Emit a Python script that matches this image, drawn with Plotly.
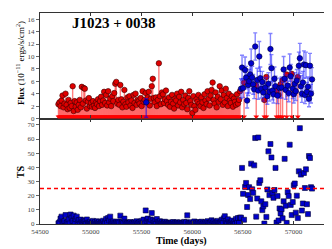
import plotly.graph_objects as go

# ---------------- data ----------------
early_time = [
    54682, 54692, 54702, 54712, 54722, 54732, 54742, 54752, 54762, 54772,
    54782, 54792, 54802, 54812, 54822, 54832, 54842, 54852, 54862, 54872,
    54882, 54892, 54902, 54912, 54922, 54932, 54942, 54952, 54962, 54972,
    54982, 54992, 55002, 55012, 55022, 55032, 55042, 55052, 55062, 55072,
    55082, 55092, 55102, 55112, 55122, 55132, 55142, 55152, 55162, 55172,
    55182, 55192, 55202, 55212, 55222, 55232, 55242, 55252, 55262, 55272,
    55282, 55292, 55302, 55312, 55322, 55332, 55342, 55352, 55362, 55372,
    55382, 55392, 55402, 55412, 55422, 55432, 55442, 55452, 55462, 55472,
    55482, 55492, 55502, 55512, 55522, 55532, 55542, 55552, 55562, 55572,
    55582, 55592, 55602, 55612, 55622, 55632, 55642, 55652, 55662, 55672,
    55682, 55692, 55702, 55712, 55722, 55732, 55742, 55752, 55762, 55772,
    55782, 55792, 55802, 55812, 55822, 55832, 55842, 55852, 55862, 55872,
    55882, 55892, 55902, 55912, 55922, 55932, 55942, 55952, 55962, 55972,
    55982, 55992, 56002, 56012, 56022, 56032, 56042, 56052, 56062, 56072,
    56082, 56092, 56102, 56112, 56122, 56132, 56142, 56152, 56162, 56172,
    56182, 56192, 56202, 56212, 56222, 56232, 56242, 56252, 56262, 56272,
    56282, 56292, 56302, 56312, 56322, 56332, 56342, 56352, 56362, 56372,
    56382, 56392, 56402, 56412, 56422, 56432, 56442, 56452, 56462, 56472,
]
early_flux_ul = [
    2.3, 2.6, 2.0, 2.9, 3.7, 1.8, 2.4, 4.0, 2.2, 1.5,
    3.0, 1.7, 2.5, 2.0, 5.2, 1.2, 2.8, 1.9, 2.6, 1.4,
    2.2, 3.0, 1.8, 5.1, 2.4, 4.9, 4.8, 2.9, 1.6, 2.7,
    3.3, 2.0, 2.5, 1.9, 2.8, 2.1, 1.7, 2.6, 2.3, 3.1,
    2.0, 2.8, 3.5, 2.2, 2.9, 4.3, 2.5, 3.8, 2.1, 4.4,
    2.6, 3.2, 2.0, 3.6, 2.8, 4.1, 5.6, 5.9, 2.4, 3.0,
    2.2, 5.4, 3.1, 1.8, 2.7, 4.6, 2.3, 1.9, 3.4, 2.6,
    3.6, 2.1, 2.9, 1.7, 3.8, 2.5, 4.0, 2.2, 3.0, 2.8,
    2.4, 3.3, 2.0, 4.4, 2.7, 3.0, 4.1, 2.6, 3.4, 4.3,
    2.1, 3.2, 5.2, 6.4, 3.3, 2.6, 3.4, 2.0, 3.0, 8.9,
    3.6, 2.3, 4.2, 3.9, 2.5, 3.1, 4.5, 2.8, 2.2, 3.4,
    1.9, 2.7, 3.8, 2.4, 1.6, 3.2, 2.9, 4.0, 2.1, 3.5,
    2.6, 4.3, 1.8, 3.0, 2.3, 3.7, 2.5, 1.5, 3.3, 4.4,
    2.8, 2.2, 0.9, 3.6, 2.0, 1.4, 3.1, 2.7, 3.8, 2.4,
    2.0, 3.4, 2.6, 1.7, 3.9, 2.9, 2.3, 4.4, 3.2, 2.1,
    3.7, 4.6, 5.8, 3.0, 2.4, 4.2, 1.8, 3.5, 2.7, 5.2,
    3.1, 4.5, 2.2, 3.8, 2.6, 4.8, 3.3, 2.0, 4.0, 2.9,
    2.5, 3.6, 1.9, 3.2, 2.7, 2.2, 3.9, 2.4, 3.0, 4.4,
]
early_ts = [
    0.5, 1.2, 3.8, 5.2, 1.0, 0.3, 2.1, 6.3, 0.8, 1.5,
    3.2, 0.4, 6.7, 4.5, 2.0, 5.9, 1.1, 3.5, 5.2, 0.6,
    2.8, 0.2, 3.1, 1.3, 0.5, 2.4, 1.8, 0.3, 3.2, 0.9,
    0.4, 1.6, 0.2, 0.8, 2.2, 0.5, 1.3, 0.1, 1.9, 0.7,
    1.5, 0.3, 1.0, 0.6, 2.3, 0.2, 1.4, 3.6, 0.8, 4.2,
    2.5, 5.2, 1.2, 0.4, 1.8, 0.6, 0.2, 1.1, 0.5, 1.7,
    0.9, 5.9, 0.3, 1.6, 0.7, 3.8, 1.2, 0.2, 0.9, 0.4,
    0.6, 1.4, 0.3, 0.8, 0.1, 1.2, 0.5, 1.9, 0.4, 0.7,
    1.3, 0.2, 2.2, 0.6, 3.1, 0.4, 9.6, 2.0, 3.8, 1.5,
    1.1, 3.2, 7.7, 2.6, 0.8, 1.9, 0.3, 3.5, 1.4, 0.6,
    2.0, 0.5, 1.3, 0.2, 0.9, 1.6, 0.4, 1.1, 0.3, 0.7,
    0.2, 1.0, 0.5, 1.4, 0.3, 0.8, 0.1, 1.2, 0.6, 0.4,
    1.1, 0.3, 0.7, 0.2, 1.5, 0.5, 1.3, 6.1, 0.4, 0.8,
    0.3, 1.2, 0.1, 0.6, 1.8, 0.4, 0.9, 0.2, 1.4, 0.5,
    0.7, 1.6, 0.3, 1.0, 0.2, 1.3, 0.5, 2.0, 0.8, 0.4,
    1.2, 2.6, 0.6, 1.8, 0.3, 1.1, 0.5, 2.2, 0.9, 0.4,
    1.5, 3.0, 0.8, 4.0, 5.5, 2.1, 0.6, 3.3, 1.2, 0.5,
    0.9, 2.4, 0.4, 1.3, 0.2, 3.6, 1.0, 4.2, 0.7, 4.5,
]

# single early detection
early_det_time = [55547]
early_det_flux = [2.6]
early_det_err_plus = [0.6]
early_det_err_minus = [2.4]

# late period (flare) detections
late_det_time = [
    56482, 56492, 56502, 56522, 56532, 56542, 56552, 56562, 56572, 56582,
    56592, 56602, 56612, 56622, 56642, 56652, 56662, 56672, 56682, 56692,
    56702, 56722, 56742, 56752, 56762, 56772, 56782, 56792, 56802, 56812,
    56822, 56842, 56862, 56882, 56902, 56912, 56922, 56942, 56952, 56962,
    56972, 56992, 57002, 57012, 57022, 57032, 57052, 57062, 57072, 57082,
    57092, 57102, 57112, 57122, 57132, 57142, 57152, 57162, 57172, 57182,
]
late_det_flux = [
    4.8, 8.2, 4.9, 7.8, 6.6, 2.9, 5.4, 6.0, 7.1, 8.9,
    6.6, 5.5, 4.7, 11.6, 6.2, 4.5, 10.0, 6.5, 4.8, 5.9,
    4.2, 5.0, 3.6, 5.6, 4.3, 11.2, 8.1, 4.5, 3.9, 6.4,
    5.2, 3.7, 4.9, 5.0, 7.9, 6.4, 4.6, 5.3, 4.1, 8.2,
    6.8, 4.8, 3.9, 5.6, 4.4, 6.1, 8.5, 9.7, 5.2, 4.0,
    5.8, 8.7, 3.8, 8.6, 4.3, 5.1, 3.2, 8.5, 4.0, 6.3,
]
late_det_err = [
    1.6, 2.0, 1.5, 2.1, 1.8, 1.2, 1.7, 1.9, 2.0, 2.3,
    1.8, 1.6, 1.5, 2.2, 1.9, 1.4, 2.4, 1.8, 1.5, 1.7,
    1.4, 1.6, 1.3, 1.8, 1.5, 2.5, 2.2, 1.5, 1.4, 1.9,
    1.6, 1.3, 1.6, 1.7, 2.1, 1.8, 1.5, 1.7, 1.4, 2.2,
    1.9, 1.6, 1.4, 1.8, 1.5, 1.8, 2.2, 2.4, 1.7, 1.4,
    1.8, 2.2, 1.4, 2.1, 1.5, 1.6, 1.3, 2.0, 1.5, 1.9,
]
late_ul_time = [56512, 56632, 56712, 56732, 56832, 56852, 56872, 56892, 56932, 56982, 57042]
late_ul_flux = [5.8, 5.3, 3.0, 6.7, 4.4, 3.8, 5.5, 6.2, 7.1, 7.2, 6.7]

late_ts_time = [
    56482, 56492, 56502, 56512, 56522, 56532, 56542, 56552, 56562, 56572,
    56582, 56592, 56602, 56612, 56622, 56632, 56642, 56652, 56662, 56672,
    56682, 56692, 56702, 56712, 56722, 56732, 56742, 56752, 56762, 56772,
    56782, 56792, 56802, 56812, 56822, 56832, 56842, 56852, 56862, 56872,
    56882, 56892, 56902, 56912, 56922, 56932, 56942, 56952, 56962, 56972,
    56982, 56992, 57002, 57012, 57022, 57032, 57042, 57052, 57062, 57072,
    57082, 57092, 57102, 57112, 57122, 57132, 57142, 57152, 57162, 57172,
    57182,
]
late_ts = [
    4.5, 39.6, 21.3, 3.0, 26.2, 29.0, 12.0, 20.5, 26.0, 17.6,
    42.6, 24.5, 22.0, 41.4, 60.7, 5.2, 18.0, 61.1, 29.0, 30.9,
    16.0, 9.8, 12.5, 0.3, 14.0, 5.0, 24.4, 51.3, 20.4, 56.5,
    47.0, 22.0, 18.5, 24.0, 39.6, 1.0, 19.7, 2.5, 11.0, 7.5,
    10.5, 4.0, 16.0, 46.0, 12.9, 0.8, 22.5, 19.7, 56.0, 13.5,
    6.3, 15.5, 27.4, 28.6, 8.0, 20.0, 4.2, 37.2, 67.7, 34.9,
    9.5, 14.5, 36.0, 25.4, 38.6, 14.0, 7.0, 48.0, 46.6, 26.0,
    25.0,
]
ts_threshold = 25

x_ticks = [54500, 55000, 55500, 56000, 56500, 57000]
x_ticklabels = ["54500", "55000", "55500", "56000", "56500", "57000"]
flux_ticks = [0, 2, 4, 6, 8, 10, 12, 14, 16]
ts_ticks = [0, 10, 20, 30, 40, 50, 60, 70]

# ---------------- figure ----------------
RED = "#e00000"
BLUE = "#0000cc"
SERIF = "Liberation Serif, DejaVu Serif, serif"

fig = go.Figure()

ul_time = early_time + late_ul_time
ul_flux = early_flux_ul + late_ul_flux

stem_x, stem_y = [], []
for t, f in zip(ul_time, ul_flux):
    stem_x += [t, t, None]
    stem_y += [f, 0, None]

fig.add_trace(go.Scatter(x=stem_x, y=stem_y, mode="lines",
                         line=dict(color="rgba(255,0,0,0.5)", width=1.4),
                         xaxis="x2", yaxis="y2", hoverinfo="skip", showlegend=False))
fig.add_trace(go.Scatter(x=ul_time, y=[0.3] * len(ul_time), mode="markers",
                         marker=dict(symbol="triangle-down", size=5, color="#ff0000",
                                     line=dict(width=0)),
                         xaxis="x2", yaxis="y2", showlegend=False))
fig.add_trace(go.Scatter(x=ul_time, y=ul_flux, mode="markers",
                         marker=dict(symbol="circle", size=5.5, color=RED,
                                     line=dict(color="#3a0000", width=0.6)),
                         xaxis="x2", yaxis="y2", showlegend=False))
fig.add_trace(go.Scatter(x=early_det_time, y=early_det_flux, mode="markers",
                         error_y=dict(type="data", array=early_det_err_plus,
                                      arrayminus=early_det_err_minus,
                                      color="rgba(0,0,255,0.6)", thickness=1.4, width=2),
                         marker=dict(symbol="circle", size=5.5, color=BLUE,
                                     line=dict(color="#000033", width=0.6)),
                         xaxis="x2", yaxis="y2", showlegend=False))
fig.add_trace(go.Scatter(x=late_det_time, y=late_det_flux, mode="markers",
                         error_y=dict(type="data", array=late_det_err,
                                      color="rgba(30,30,255,0.55)", thickness=1.4, width=2),
                         marker=dict(symbol="circle", size=5.5, color=BLUE,
                                     line=dict(color="#000033", width=0.6)),
                         xaxis="x2", yaxis="y2", showlegend=False))

# TS panel
ts_time = early_time + late_ts_time
ts_vals = early_ts + late_ts
fig.add_trace(go.Scatter(x=ts_time, y=ts_vals, mode="markers",
                         marker=dict(symbol="square", size=5, color=BLUE,
                                     line=dict(color="#000033", width=0.6)),
                         xaxis="x", yaxis="y", showlegend=False))
fig.add_trace(go.Scatter(x=[54500, 57310], y=[ts_threshold, ts_threshold], mode="lines",
                         line=dict(color="#ff0000", width=1.5, dash="4px,3px"),
                         xaxis="x", yaxis="y", showlegend=False))

tickfont = dict(family=SERIF, size=7, color="#444444")
common_x = dict(range=[54500, 57310], tickvals=x_ticks, ticktext=x_ticklabels,
                ticks="inside", ticklen=3, automargin=False,
                tickcolor="#333", mirror="ticks", showline=True, linecolor="#333",
                linewidth=1.2, showgrid=False, zeroline=False, tickfont=tickfont)
common_y = dict(ticks="outside", ticklen=3, tickcolor="#666", showline=True,
                automargin=False,
                mirror=True, linecolor="#333", linewidth=1.2, showgrid=False,
                zeroline=False, tickfont=tickfont)
right_y = dict(side="right", ticks="inside", ticklen=3, tickcolor="#444",
               showticklabels=False, showline=False, showgrid=False, zeroline=False,
               automargin=False)

# the page body adds an 8px offset, so the figure is 8px smaller than the window
fig.update_layout(
    width=324, height=241,
    margin=dict(l=32, r=7, t=5, b=25),
    paper_bgcolor="white", plot_bgcolor="white",
    xaxis=dict(domain=[0, 1], anchor="y", **common_x),
    xaxis2=dict(domain=[0, 1], anchor="y2", matches="x", showticklabels=False, **common_x),
    yaxis=dict(domain=[0, 0.5], anchor="x", range=[0, 74.5], tickvals=ts_ticks, **common_y),
    yaxis2=dict(domain=[0.5, 1], anchor="x2", range=[0, 17], tickvals=flux_ticks, **common_y),
    yaxis3=dict(overlaying="y", anchor="x", range=[0, 74.5], tickvals=ts_ticks, **right_y),
    yaxis4=dict(overlaying="y2", anchor="x2", range=[0, 17], tickvals=flux_ticks, **right_y),
    font=dict(family=SERIF),
    annotations=[
        dict(text="<b>J1023 + 0038</b>", xref="paper", yref="paper", x=0.26, y=0.953,
             xanchor="center", yanchor="middle", showarrow=False,
             font=dict(family=SERIF, size=15, color="black")),
        dict(text="<b>Flux</b> (10<sup>−11</sup> ergs/s/cm<sup>2</sup>)", xref="paper",
             yref="paper", x=-0.07, y=0.763, textangle=-90, xanchor="center",
             yanchor="middle", showarrow=False,
             font=dict(family=SERIF, size=9, color="black")),
        dict(text="<b>TS</b>", xref="paper", yref="paper", x=-0.07, y=0.246,
             textangle=-90, xanchor="center", yanchor="middle", showarrow=False,
             font=dict(family=SERIF, size=10, color="black")),
        dict(text="<b>Time (days)</b>", xref="paper", yref="paper", x=0.498, y=-0.08,
             xanchor="center", yanchor="middle", showarrow=False,
             font=dict(family=SERIF, size=10, color="black")),
    ],
)

fig.write_html("out.html")
